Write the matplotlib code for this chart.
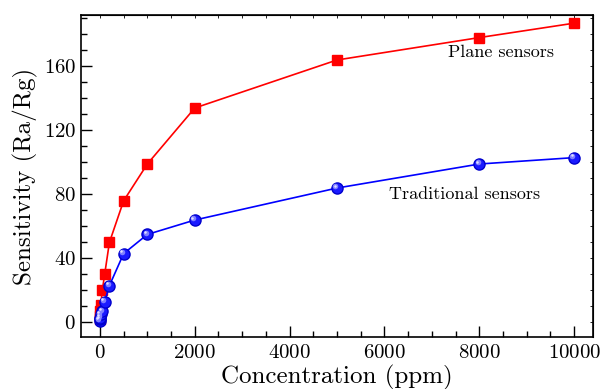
import matplotlib
matplotlib.use("Agg")
import matplotlib.pyplot as plt
from matplotlib.ticker import MultipleLocator
from matplotlib.transforms import offset_copy

plt.rcParams["font.family"] = ["cmr10", "DejaVu Serif"]
plt.rcParams["mathtext.fontset"] = "cm"
plt.rcParams["axes.formatter.use_mathtext"] = True

conc = [1, 5, 10, 20, 50, 100, 200, 500, 1000, 2000, 5000, 8000, 10000]
plane = [2, 4, 7, 11, 20, 30, 50, 76, 99, 134, 164, 178, 187]
traditional = [1, 2, 3, 5, 7, 13, 23, 43, 55, 64, 84, 99, 103]

fig = plt.figure(figsize=(6.04, 3.89), dpi=100)
ax = fig.add_axes([0.134, 0.134, 0.848, 0.827])

ax.plot(conc, plane, color="#ff0000", lw=1.2, marker="s", ms=7.6,
        mec="#ff0000", mfc="#ff0000", zorder=3)
ax.plot(conc, traditional, color="#0000ff", lw=1.2, marker="o", ms=8,
        mec="#0000cc", mfc="#1a1aff", zorder=3)
# highlight to make the balls look shaded
hl = offset_copy(ax.transData, fig=fig, x=-1.2, y=1.2, units="points")
ax.plot(conc, traditional, ls="none", marker="o", ms=4, mec="none",
        mfc="#8080ff", transform=hl, zorder=4)
hl2 = offset_copy(ax.transData, fig=fig, x=-1.8, y=1.8, units="points")
ax.plot(conc, traditional, ls="none", marker="o", ms=1.8, mec="none",
        mfc="#e0e0ff", transform=hl2, zorder=5)

ax.text(8460, 169, "Plane sensors", fontsize=13, ha="center", va="center")
ax.text(7680, 80, "Traditional sensors", fontsize=13, ha="center", va="center")

ax.set_xlim(-400, 10400)
ax.set_ylim(-9, 192)
ax.xaxis.set_major_locator(MultipleLocator(2000))
ax.xaxis.set_minor_locator(MultipleLocator(500))
ax.yaxis.set_major_locator(MultipleLocator(40))
ax.yaxis.set_minor_locator(MultipleLocator(10))

ax.tick_params(which="both", direction="in", labelsize=15, width=1)
ax.tick_params(which="major", length=8)
ax.tick_params(which="minor", length=4)
ax.tick_params(axis="x", which="both", pad=5)
for s in ax.spines.values():
    s.set_linewidth(1.2)

# small ticks on the top and right edges
top = ax.secondary_xaxis("top")
top.xaxis.set_major_locator(MultipleLocator(500))
top.tick_params(direction="in", length=2, width=0.6, labeltop=False)
right = ax.secondary_yaxis("right")
right.yaxis.set_major_locator(MultipleLocator(10))
right.tick_params(direction="in", length=2, width=0.6, labelright=False)

ax.set_xlabel("Concentration (ppm)", fontsize=18, labelpad=2)
ax.set_ylabel("Sensitivity (Ra/Rg)", fontsize=18, labelpad=4)

fig.savefig("out.png", dpi=100)
